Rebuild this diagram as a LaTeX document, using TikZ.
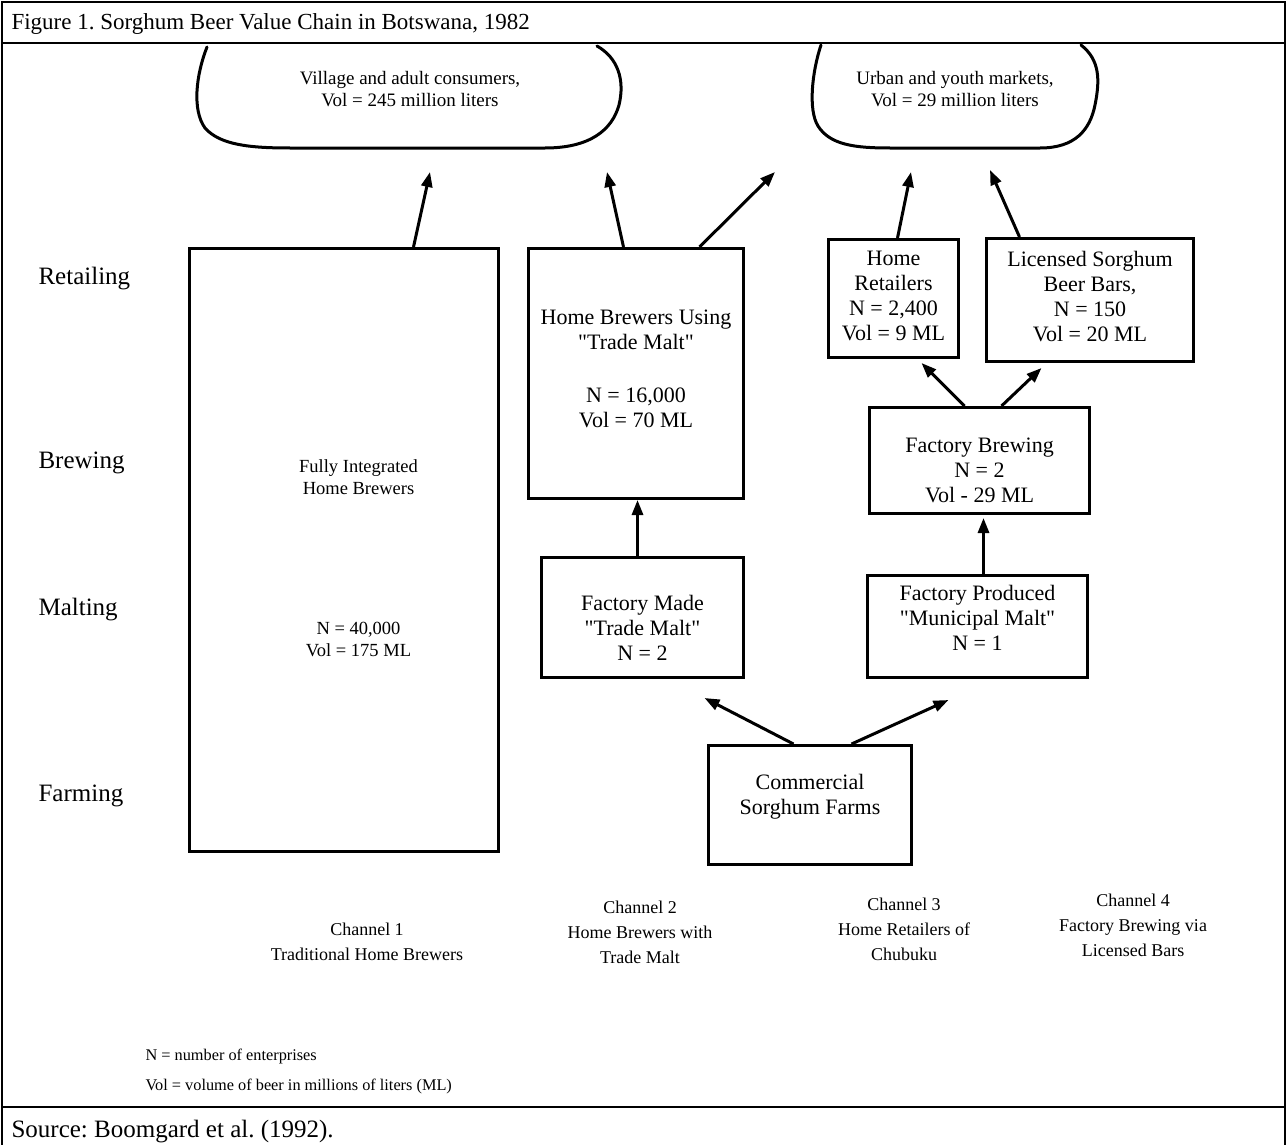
\documentclass[tikz,border=0pt]{standalone}
\usepackage{fontspec}
\setmainfont{Liberation Serif}[Ligatures=TeXOff]
\usetikzlibrary{arrows.meta}
\frenchspacing
\newcommand\titlefont{\fontsize{23}{27}\selectfont}
\newcommand\sourcefont{\fontsize{25}{28}\selectfont}
\newcommand\levelfont{\fontsize{25}{28}\selectfont}
\newcommand\bxfont{\fontsize{22}{25}\selectfont}
\newcommand\bigbxfont{\fontsize{18.5}{22}\selectfont}
\newcommand\cloudfont{\fontsize{19}{22}\selectfont}
\newcommand\chanfont{\fontsize{18}{25}\selectfont}
\newcommand\notefont{\fontsize{16.3}{20}\selectfont}
\newcommand\dq{\symbol{34}}
\begin{document}
\begin{tikzpicture}[x=1pt,y=-1pt,
  frame/.style={line width=2pt},
  box/.style={draw,line width=3pt,inner sep=0pt,anchor=north west},
  boxtext/.style={align=center,inner sep=0pt,font=\bxfont},
  cloudline/.style={line width=3pt,line cap=round},
  flow/.style={line width=3pt,-{Triangle[length=15pt,width=11pt]}},
  level/.style={anchor=base west,font=\levelfont},
  chan/.style={align=center,font=\chanfont},
  note/.style={anchor=base west,font=\notefont}]
\useasboundingbox (0,0) rectangle (1287,1145);

% table frame with title row and source row
\draw[frame] (2,2) rectangle (1285,1160);
\draw[frame] (2,43) -- (1285,43);
\draw[frame] (2,1107) -- (1285,1107);
\node[anchor=base west,font=\titlefont] (title) at (8,30) {Figure 1. Sorghum Beer Value Chain in Botswana, 1982};
\node[anchor=base west,font=\sourcefont] (source) at (8,1137) {Source: Boomgard et al. (1992).};

% stage labels
\node[level] (retailing) at (35,284) {Retailing};
\node[level] (brewing) at (35,468) {Brewing};
\node[level] (malting) at (35,615) {Malting};
\node[level] (farming) at (35,801) {Farming};

% consumer markets
\draw[cloudline] (207,47) .. controls (196,75) and (192,110) .. (205,128)
  .. controls (220,145) and (250,148) .. (290,148) -- (545,148)
  .. controls (590,148) and (612,130) .. (619,105)
  .. controls (625,80) and (618,58) .. (597,46);
\node[align=center,font=\cloudfont] (village) at (410,89) {Village and adult consumers,\\Vol = 245 million liters};
\draw[cloudline] (821,45) .. controls (812,72) and (808,110) .. (818,126)
  .. controls (830,145) and (855,148) .. (890,148) -- (1040,148)
  .. controls (1075,148) and (1090,130) .. (1095,105)
  .. controls (1100,80) and (1100,60) .. (1081,45);
\node[align=center,font=\cloudfont] (urban) at (955,89) {Urban and youth markets,\\Vol = 29 million liters};

\coordinate (v1) at (430,172);
\coordinate (v2) at (607,172);
\coordinate (u1) at (775,172);
\coordinate (u2) at (911,172);
\coordinate (u3) at (990,170);

% enterprises (text offsets are measured downwards from each box centre)
\node[box,minimum width=309pt,minimum height=603pt] (ch1) at (188,247) {};
\node[boxtext,font=\bigbxfont] (ch1t) at ([shift={(14.5,8.5)}]ch1.center)
  {Fully Integrated\\Home Brewers\\[118pt]N = 40,000\\Vol = 175 ML};
\node[box,minimum width=215pt,minimum height=250pt] (hbtm) at (527,247) {};
\node[boxtext] (hbtmt) at ([shift={(0,-5)}]hbtm.center)
  {Home Brewers Using\\\dq Trade Malt\dq\\[28pt]N = 16,000\\Vol = 70 ML};
\node[box,minimum width=202pt,minimum height=120pt] (fmtm) at (540,556) {};
\node[boxtext] (fmtmt) at ([shift={(0,10)}]fmtm.center)
  {Factory Made\\\dq Trade Malt\dq\\N = 2};
\node[box,minimum width=203pt,minimum height=119pt] (farms) at (707,744) {};
\node[boxtext] (farmst) at ([shift={(0,-8.5)}]farms.center)
  {Commercial\\Sorghum Farms};
\node[box,minimum width=130pt,minimum height=118pt] (hr) at (827,238) {};
\node[boxtext] (hrt) at ([shift={(0,-3)}]hr.center)
  {Home\\Retailers\\N = 2,400\\Vol = 9 ML};
\node[box,minimum width=207pt,minimum height=123pt] (bars) at (985,237) {};
\node[boxtext] (barst) at ([shift={(0,-3)}]bars.center)
  {Licensed Sorghum\\Beer Bars,\\N = 150\\Vol = 20 ML};
\node[box,minimum width=220pt,minimum height=106pt] (fb) at (868,406) {};
\node[boxtext] (fbt) at ([shift={(0,10)}]fb.center)
  {Factory Brewing\\N = 2\\Vol - 29 ML};
\node[box,minimum width=220pt,minimum height=102pt] (mm) at (866,574) {};
\node[boxtext] (mmt) at ([shift={(0,-9)}]mm.center)
  {Factory Produced\\\dq Municipal Malt\dq\\N = 1};

% flows
\draw[flow] ([xshift=69.5pt]ch1.north) -- (v1);
\draw[flow] ([xshift=-12.5pt]hbtm.north) -- (v2);
\draw[flow] ([xshift=63.5pt]hbtm.north) -- (u1);
\draw[flow] ([xshift=4pt]hr.north) -- (u2);
\draw[flow] ([xshift=-70.5pt]bars.north) -- (u3);
\draw[flow] ([xshift=-15pt]fb.north) -- ([shift={(28,4)}]hr.south);
\draw[flow] ([xshift=22pt]fb.north) -- ([shift={(-48.5,5)}]bars.south);
\draw[flow] ([xshift=-5pt]fmtm.north) -- ([xshift=1.5pt]hbtm.south);
\draw[flow] ([xshift=6pt]mm.north) -- ([shift={(4,3)}]fb.south);
\draw[flow] ([xshift=-16.5pt]farms.north) -- ([shift={(62,19)}]fmtm.south);
\draw[flow] ([xshift=41.5pt]farms.north) -- ([shift={(-29,21)}]mm.south);

% channel names
\node[chan] (c1) at (367,942) {Channel 1\\Traditional Home Brewers};
\node[chan] (c2) at (640,932) {Channel 2\\Home Brewers with\\Trade Malt};
\node[chan] (c3) at (904,929) {Channel 3\\Home Retailers of\\Chubuku};
\node[chan] (c4) at (1133,925) {Channel 4\\Factory Brewing via\\Licensed Bars};

% key
\node[note] (keyn) at (142,1060) {N = number of enterprises};
\node[note] (keyvol) at (142,1090) {Vol = volume of beer in millions of liters (ML)};
\end{tikzpicture}
\end{document}
